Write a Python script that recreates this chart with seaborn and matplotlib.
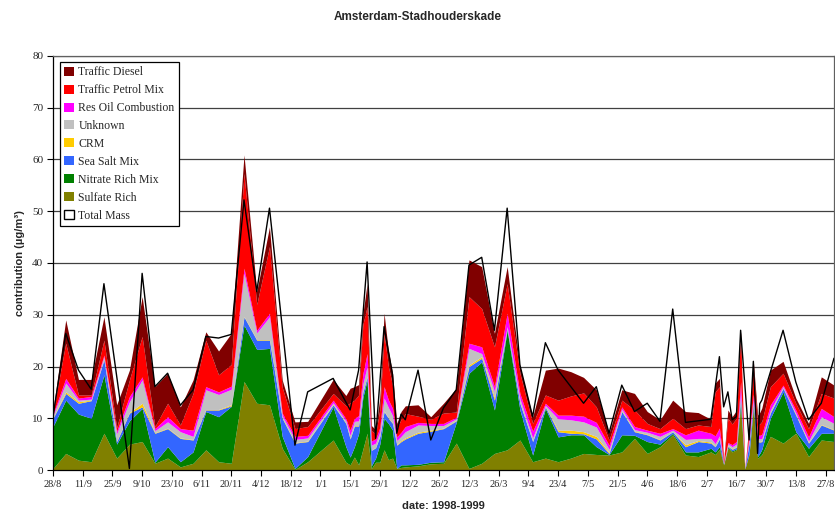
import numpy as np
import pandas as pd
import matplotlib
matplotlib.use("Agg")
import matplotlib.pyplot as plt
from matplotlib.patches import Patch
import seaborn as sns

# Sampling dates (Amsterdam-Stadhouderskade, 1998-1999)
dates = [
    "1998-08-28", "1998-09-03", "1998-09-09", "1998-09-15", "1998-09-21", "1998-09-27",
    "1998-10-03", "1998-10-09", "1998-10-15", "1998-10-21", "1998-10-27", "1998-11-02",
    "1998-11-08", "1998-11-14", "1998-11-20", "1998-11-26", "1998-12-02", "1998-12-08",
    "1998-12-14", "1998-12-20", "1998-12-26", "1999-01-07", "1999-01-13", "1999-01-15",
    "1999-01-17", "1999-01-19", "1999-01-21", "1999-01-23", "1999-01-25", "1999-01-27",
    "1999-01-29", "1999-01-31", "1999-02-02", "1999-02-04", "1999-02-06", "1999-02-08",
    "1999-02-10", "1999-02-16", "1999-02-22", "1999-02-28", "1999-03-06", "1999-03-12",
    "1999-03-18", "1999-03-24", "1999-03-30", "1999-04-05", "1999-04-11", "1999-04-17",
    "1999-04-23", "1999-04-29", "1999-05-05", "1999-05-11", "1999-05-17", "1999-05-23",
    "1999-05-29", "1999-06-04", "1999-06-10", "1999-06-16", "1999-06-22", "1999-06-28",
    "1999-07-04", "1999-07-06", "1999-07-08", "1999-07-10", "1999-07-12", "1999-07-14",
    "1999-07-16", "1999-07-18", "1999-07-20", "1999-07-22", "1999-07-24", "1999-07-26",
    "1999-07-27", "1999-07-28", "1999-08-01", "1999-08-07", "1999-08-13", "1999-08-19",
    "1999-08-25", "1999-08-31",
]

# Source contributions (ug/m3), stacked bottom to top
sulfate_rich = [
    0.3, 3.2, 1.9, 1.6, 7.1, 2.3, 5.0, 5.5, 1.3, 2.3, 0.6, 1.3,
    3.9, 1.6, 1.3, 17.1, 12.9, 12.6, 4.2, 0.1, 1.6, 5.8, 1.5, 1.0,
    2.5, 1.0, 4.0, 7.1, 0.3, 1.5, 1.5, 3.9, 2.0, 2.3, 0.3, 0.5,
    0.6, 0.8, 1.2, 1.3, 5.2, 0.3, 1.3, 3.2, 3.9, 5.8, 1.6, 2.3,
    1.6, 2.3, 3.2, 3.0, 2.9, 3.5, 6.1, 3.2, 4.5, 6.8, 2.9, 2.6,
    3.5, 3.0, 4.0, 1.0, 4.2, 3.5, 3.9, 12.0, 0.2, 3.0, 12.0, 2.3,
    2.6, 3.0, 6.5, 5.2, 7.1, 2.6, 5.8, 5.5,
]
nitrate_rich_mix = [
    8.1, 10.3, 8.9, 8.4, 11.3, 2.7, 4.5, 6.4, 0.2, 2.2, 1.0, 2.2,
    7.4, 8.7, 11.0, 10.9, 10.4, 10.9, 2.3, 0.2, 1.0, 6.4, 3.0, 1.5,
    2.0, 6.0, 10.0, 10.3, 0.5, 0.8, 3.5, 6.1, 7.0, 5.4, 0.0, 0.5,
    0.4, 0.3, 0.3, 0.3, 4.0, 18.4, 19.6, 8.4, 23.1, 5.8, 1.3, 9.6,
    4.8, 4.5, 3.6, 1.5, 0.1, 3.3, 0.6, 2.3, 0.5, 0.3, 0.6, 0.9,
    0.7, 0.5, 0.5, 0.1, 0.2, 0.2, 0.2, 1.0, 0.0, 0.2, 0.5, 0.3,
    0.6, 1.0, 3.5, 9.9, 0.3, 1.6, 1.3, 1.6,
]
sea_salt_mix = [
    1.6, 1.3, 2.1, 3.4, 2.9, 0.5, 1.5, 0.3, 5.6, 3.5, 4.5, 2.3,
    0.3, 1.3, 0.1, 1.6, 1.8, 1.6, 3.5, 4.9, 2.9, 0.4, 4.5, 3.5,
    4.0, 1.5, 1.0, 0.6, 3.0, 2.0, 1.5, 1.3, 1.0, 1.3, 4.5, 4.5,
    5.0, 6.0, 6.0, 6.4, 0.3, 1.3, 0.7, 1.9, 0.3, 1.3, 2.6, 0.3,
    1.0, 0.3, 0.2, 1.5, 0.2, 4.5, 0.7, 1.3, 0.8, 0.3, 1.0, 2.0,
    1.0, 1.0, 1.5, 0.1, 0.2, 0.3, 0.3, 1.0, 0.1, 2.0, 0.5, 2.9,
    2.2, 1.5, 1.0, 0.7, 3.2, 1.0, 1.6, 0.6,
]
crm = [
    0.1, 0.3, 0.3, 0.1, 0.1, 0.1, 0.1, 0.7, 0.1, 0.1, 0.1, 0.1,
    0.1, 0.1, 0.2, 0.1, 0.1, 0.1, 0.1, 0.1, 0.1, 0.1, 0.1, 0.1,
    0.1, 0.1, 0.1, 0.1, 0.0, 0.1, 0.1, 0.1, 0.1, 0.1, 0.1, 0.2,
    0.2, 0.2, 0.2, 0.1, 0.1, 0.3, 0.3, 0.5, 0.1, 0.1, 0.1, 0.1,
    0.3, 0.6, 0.4, 0.5, 0.2, 0.1, 0.1, 0.1, 0.1, 0.0, 0.4, 0.2,
    0.2, 0.1, 0.1, 0.0, 0.1, 0.1, 0.1, 0.1, 0.0, 0.1, 0.1, 0.1,
    0.1, 0.1, 0.1, 0.1, 0.1, 0.1, 0.1, 0.1,
]
unknown = [
    0.4, 1.7, 0.3, 0.2, 0.5, 1.4, 2.1, 4.5, 0.4, 1.2, 1.2, 0.6,
    3.8, 2.9, 3.0, 8.3, 1.3, 4.4, 0.4, 0.6, 0.6, 0.3, 0.4, 0.6,
    0.8, 0.9, 1.5, 1.9, 1.0, 0.8, 0.8, 2.5, 2.0, 1.4, 0.8, 0.8,
    1.2, 1.4, 0.9, 0.5, 0.3, 3.2, 0.6, 1.2, 0.3, 0.8, 0.6, 0.2,
    2.2, 2.0, 1.9, 1.8, 0.6, 0.4, 0.3, 0.4, 0.6, 0.3, 1.0, 0.4,
    0.7, 0.5, 0.5, 0.1, 0.4, 0.4, 0.5, 1.0, 0.0, 0.5, 0.5, 0.5,
    0.5, 0.5, 0.5, 0.2, 0.3, 0.3, 1.5, 1.2,
]
res_oil_combustion = [
    0.3, 0.9, 0.4, 0.5, 0.3, 0.5, 1.0, 0.6, 0.4, 1.0, 0.6, 1.2,
    0.6, 0.5, 0.6, 1.0, 0.5, 0.7, 0.5, 0.6, 0.5, 0.5, 0.4, 1.0,
    0.6, 1.0, 2.0, 2.5, 0.8, 0.8, 0.8, 2.2, 1.5, 1.4, 0.7, 0.8,
    1.0, 0.5, 0.4, 0.4, 0.3, 1.0, 1.3, 0.9, 2.6, 1.0, 1.3, 0.4,
    0.7, 0.9, 1.1, 0.9, 0.8, 0.4, 0.6, 0.4, 0.6, 0.3, 0.9, 1.6,
    1.0, 1.5, 1.5, 0.1, 0.2, 0.4, 0.5, 2.0, 0.0, 1.0, 1.0, 0.7,
    0.7, 0.8, 1.0, 0.3, 0.6, 0.8, 1.6, 1.3,
]
traffic_petrol_mix = [
    0.3, 6.8, 0.6, 0.3, 2.9, 0.7, 3.2, 7.8, 0.4, 2.6, 0.7, 7.1,
    9.0, 3.3, 4.2, 18.3, 5.0, 12.9, 5.0, 1.5, 1.7, 1.3, 2.5, 5.3,
    3.5, 4.0, 9.5, 9.1, 2.0, 1.0, 3.5, 10.3, 6.5, 4.4, 1.6, 2.5,
    2.5, 1.2, 0.8, 2.0, 1.0, 9.0, 7.4, 7.7, 5.7, 3.9, 1.5, 1.6,
    2.9, 3.7, 4.5, 3.0, 1.0, 1.3, 3.2, 1.3, 0.9, 2.0, 1.2, 1.0,
    1.3, 8.5, 8.0, 0.2, 4.7, 4.0, 4.5, 9.0, 0.0, 1.5, 5.5, 1.9,
    2.2, 2.5, 3.5, 2.3, 1.3, 1.6, 2.9, 3.6,
]
traffic_diesel = [
    0.5, 4.5, 3.0, 3.0, 4.5, 4.4, 1.9, 7.7, 7.7, 5.8, 3.5, 2.6,
    1.6, 4.6, 6.0, 3.6, 2.5, 3.8, 1.4, 1.3, 1.0, 2.7, 2.0, 2.8,
    2.6, 2.0, 2.0, 4.4, 1.0, 0.8, 2.3, 3.9, 3.0, 2.4, 1.0, 1.5,
    1.5, 2.2, 0.5, 1.9, 4.6, 7.1, 8.1, 2.6, 3.3, 1.3, 1.3, 4.8,
    6.2, 4.7, 3.0, 3.3, 1.3, 2.0, 3.2, 2.3, 1.7, 3.5, 3.3, 2.4,
    1.4, 1.7, 1.6, 0.2, 1.6, 1.4, 1.5, 0.6, 0.0, 0.7, 0.9, 1.9,
    2.2, 2.6, 3.2, 2.3, 1.0, 1.0, 3.2, 2.5,
]
# Measured total mass (NaN where no gravimetric value)
total_mass = [
    10.3, 26.4, 19.3, 15.6, 36.0, np.nan, 0.3, 38.0, 16.1, 18.7, 12.5, 15.5,
    25.8, 25.5, 26.2, 52.2, 34.5, 50.6, np.nan, 4.8, 15.1, 17.7, np.nan, 11.6,
    np.nan, 19.3, np.nan, 40.2, np.nan, 6.1, np.nan, 27.7, np.nan, 18.4, 7.1, 10.8,
    9.7, 19.3, 5.8, 12.0, 15.5, 39.6, 41.1, 27.0, 50.6, 20.3, 10.3, 24.6,
    19.3, np.nan, 12.9, 16.1, 7.1, 16.4, 11.3, 12.9, 9.4, 31.1, 9.2, np.nan,
    9.8, np.nan, 21.9, 12.2, 15.1, 9.7, 10.3, 27.0, np.nan, 5.8, 21.0, 3.2,
    12.8, 13.5, np.nan, 27.0, 17.0, 9.7, 12.9, 21.6,
]

tick_labels = [
    "28/8", "11/9", "25/9", "9/10", "23/10", "6/11", "20/11", "4/12", "18/12",
    "1/1", "15/1", "29/1", "12/2", "26/2", "12/3", "26/3", "9/4", "23/4",
    "7/5", "21/5", "4/6", "18/6", "2/7", "16/7", "30/7", "13/8", "27/8",
]

sources = ["Sulfate Rich", "Nitrate Rich Mix", "Sea Salt Mix", "CRM", "Unknown",
           "Res Oil Combustion", "Traffic Petrol Mix", "Traffic Diesel"]
colors = ["#808000", "#008000", "#3366FF", "#FFCC00", "#C0C0C0",
          "#FF00FF", "#FF0000", "#800000"]

df = pd.DataFrame({
    "date": pd.to_datetime(dates),
    "Sulfate Rich": sulfate_rich,
    "Nitrate Rich Mix": nitrate_rich_mix,
    "Sea Salt Mix": sea_salt_mix,
    "CRM": crm,
    "Unknown": unknown,
    "Res Oil Combustion": res_oil_combustion,
    "Traffic Petrol Mix": traffic_petrol_mix,
    "Traffic Diesel": traffic_diesel,
    "Total Mass": total_mass,
})

sns.set_theme(style="white")
plt.rcParams["font.family"] = ["Liberation Sans", "DejaVu Sans"]

fig = plt.figure(figsize=(8.35, 5.15), dpi=100)
ax = fig.add_axes([53 / 835, 1 - 470 / 515, 781 / 835, 414 / 515])

ax.stackplot(df["date"], [df[s] for s in sources], colors=colors,
             linewidth=0, zorder=2)

mass = df[["date", "Total Mass"]].dropna()
sns.lineplot(data=mass, x="date", y="Total Mass", color="black", lw=1.0,
             estimator=None, sort=True, ax=ax, zorder=3)

# Axes
start = pd.Timestamp("1998-08-28")
ax.set_xlim(start, pd.Timestamp("1999-08-31"))
ax.set_ylim(0, 80)
ticks = pd.date_range(start, periods=len(tick_labels), freq="14D")
ax.set_xticks(ticks)
ax.set_xticklabels(tick_labels, family="Liberation Serif", fontsize=7.5)
ax.set_yticks(np.arange(0, 81, 10))
ax.set_yticklabels([str(v) for v in range(0, 81, 10)],
                   family="Liberation Serif", fontsize=8)
ax.tick_params(axis="both", direction="out", length=4, width=0.8,
               color="black", pad=3, bottom=True, left=True)

ax.yaxis.grid(True, color="#404040", lw=0.9, zorder=1)
ax.xaxis.grid(False)
ax.set_axisbelow(True)
for side in ["left", "bottom"]:
    ax.spines[side].set_color("black")
    ax.spines[side].set_linewidth(0.9)
for side in ["top", "right"]:
    ax.spines[side].set_color("#606060")
    ax.spines[side].set_linewidth(0.9)

ax.set_xlabel("date: 1998-1999", fontsize=8, fontweight="bold")
ax.set_ylabel("contribution (µg/m³)", fontsize=8, fontweight="bold")
ax.xaxis.set_label_coords(0.5, -0.075)
ax.yaxis.set_label_coords(-0.036, 0.5)
fig.suptitle("Amsterdam-Stadhouderskade", fontsize=8.5, fontweight="bold",
             x=0.5, y=0.978)

# Legend, top entry first
handles = [Patch(facecolor=c, edgecolor="none") for c in colors[::-1]]
labels = sources[::-1]
handles.append(Patch(facecolor="white", edgecolor="black", lw=1.0))
labels.append("Total Mass")
leg = ax.legend(handles, labels, loc="upper left", bbox_to_anchor=(0.009, 0.985),
                prop={"family": "Liberation Serif", "size": 8.5},
                frameon=True, fancybox=False, edgecolor="black",
                framealpha=1, borderpad=0.35, labelspacing=0.5,
                handlelength=0.8, handleheight=0.8, handletextpad=0.4,
                borderaxespad=0)
leg.get_frame().set_linewidth(0.9)

fig.savefig("out.png", dpi=100)
